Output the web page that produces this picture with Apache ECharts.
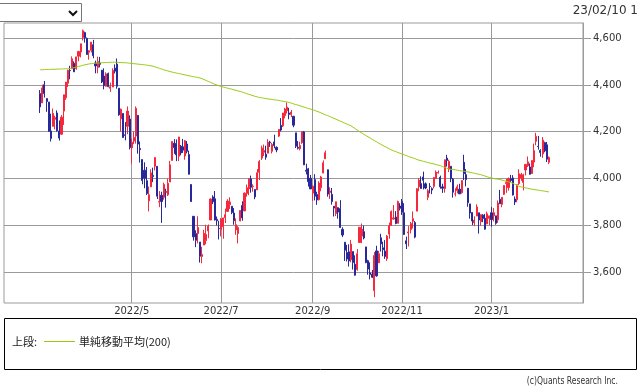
<!DOCTYPE html>
<html><head><meta charset="utf-8">
<script src="https://cdn.jsdelivr.net/npm/echarts@6/dist/echarts.min.js"></script>
<style>html,body{margin:0;padding:0;background:#fff;}#c{width:639px;height:392px;}</style>
</head><body><div id="c"></div>
<script>
// trading days (yy/mm/dd)
const dates = ("22/03/01 22/03/02 22/03/03 22/03/04 22/03/07 22/03/08 22/03/09 22/03/10 22/03/11 22/03/14 22/03/15 22/03/16 22/03/17 22/03/18 22/03/21 22/03/22 22/03/23 22/03/24 22/03/25 22/03/28 22/03/29 22/03/30 22/03/31 " +
"22/04/01 22/04/04 22/04/05 22/04/06 22/04/07 22/04/08 22/04/11 22/04/12 22/04/13 22/04/14 22/04/18 22/04/19 22/04/20 22/04/21 22/04/22 22/04/25 22/04/26 22/04/27 22/04/28 22/04/29 " +
"22/05/02 22/05/03 22/05/04 22/05/05 22/05/06 22/05/09 22/05/10 22/05/11 22/05/12 22/05/13 22/05/16 22/05/17 22/05/18 22/05/19 22/05/20 22/05/23 22/05/24 22/05/25 22/05/26 22/05/27 22/05/31 " +
"22/06/01 22/06/02 22/06/03 22/06/06 22/06/07 22/06/08 22/06/09 22/06/10 22/06/13 22/06/14 22/06/15 22/06/16 22/06/17 22/06/21 22/06/22 22/06/23 22/06/24 22/06/27 22/06/28 22/06/29 22/06/30 " +
"22/07/01 22/07/05 22/07/06 22/07/07 22/07/08 22/07/11 22/07/12 22/07/13 22/07/14 22/07/15 22/07/18 22/07/19 22/07/20 22/07/21 22/07/22 22/07/25 22/07/26 22/07/27 22/07/28 22/07/29 " +
"22/08/01 22/08/02 22/08/03 22/08/04 22/08/05 22/08/08 22/08/09 22/08/10 22/08/11 22/08/12 22/08/15 22/08/16 22/08/17 22/08/18 22/08/19 22/08/22 22/08/23 22/08/24 22/08/25 22/08/26 22/08/29 22/08/30 22/08/31 " +
"22/09/01 22/09/02 22/09/06 22/09/07 22/09/08 22/09/09 22/09/12 22/09/13 22/09/14 22/09/15 22/09/16 22/09/19 22/09/20 22/09/21 22/09/22 22/09/23 22/09/26 22/09/27 22/09/28 22/09/29 22/09/30 " +
"22/10/03 22/10/04 22/10/05 22/10/06 22/10/07 22/10/10 22/10/11 22/10/12 22/10/13 22/10/14 22/10/17 22/10/18 22/10/19 22/10/20 22/10/21 22/10/24 22/10/25 22/10/26 22/10/27 22/10/28 22/10/31 " +
"22/11/01 22/11/02 22/11/03 22/11/04 22/11/07 22/11/08 22/11/09 22/11/10 22/11/11 22/11/14 22/11/15 22/11/16 22/11/17 22/11/18 22/11/21 22/11/22 22/11/23 22/11/25 22/11/28 22/11/29 22/11/30 " +
"22/12/01 22/12/02 22/12/05 22/12/06 22/12/07 22/12/08 22/12/09 22/12/12 22/12/13 22/12/14 22/12/15 22/12/16 22/12/19 22/12/20 22/12/21 22/12/22 22/12/23 22/12/27 22/12/28 22/12/29 22/12/30 " +
"23/01/03 23/01/04 23/01/05 23/01/06 23/01/09 23/01/10 23/01/11 23/01/12 23/01/13 23/01/17 23/01/18 23/01/19 23/01/20 23/01/23 23/01/24 23/01/25 23/01/26 23/01/27 23/01/30 23/01/31 " +
"23/02/01 23/02/02 23/02/03 23/02/06 23/02/07 23/02/08 23/02/09 23/02/10").split(' ');

const opens = [
4363,4323,4401,4342,4327,4203,4223,4253,4280,4203,4189,4288,4345,4407,4462,4469,4493,4470,4523,4541,4603,4624,4599,
4540,4548,4572,4494,4475,4494,4463,4438,4394,4449,4386,4391,4472,4489,4386,4255,4278,4187,4223,4254,
4131,4160,4181,4270,4128,4081,4035,3990,3904,3964,4013,4052,4052,3899,3928,3919,3943,3930,3985,4077,4151,
4150,4095,4138,4135,4096,4147,4102,3974,3838,3764,3764,3728,3666,3715,3734,3775,3822,3921,3913,3825,3786,
3781,3793,3832,3859,3888,3881,3852,3780,3764,3818,3884,3861,3935,3955,3998,3966,3953,3951,4026,4087,
4112,4104,4108,4155,4116,4156,4133,4181,4227,4225,4269,4290,4280,4273,4266,4195,4133,4127,4153,4199,4035,4041,4001,
3937,3995,3931,3909,3960,4023,4084,4037,3940,3932,3881,3850,3875,3871,3782,3727,3683,3686,3652,3687,3633,
3610,3726,3753,3772,3707,3648,3596,3591,3520,3690,3639,3746,3703,3689,3657,3762,3799,3826,3835,3808,3882,
3902,3853,3733,3767,3781,3817,3811,3860,3964,3978,4006,3977,3919,3966,3956,3966,4000,4023,4005,3964,3957,
4087,4040,4052,3997,3933,3948,3954,3939,4069,4016,3958,3891,3854,3810,3839,3853,3815,3843,3830,3805,3829,
3853,3840,3840,3823,3911,3889,3932,3978,3961,3999,4002,3912,3909,3978,4002,3983,4036,4054,4049,4021,
4070,4159,4137,4120,4105,4153,4144,4069];

const highs = [
4378,4401,4417,4342,4327,4277,4299,4268,4291,4248,4271,4358,4413,4465,4482,4522,4501,4521,4546,4576,4637,4628,4603,
4549,4584,4593,4504,4521,4520,4464,4471,4454,4453,4410,4471,4488,4513,4386,4299,4278,4241,4308,4270,
4170,4200,4308,4270,4158,4081,4069,4049,3965,4039,4046,4091,4052,3946,3943,3982,3956,3999,4075,4158,4168,
4167,4178,4143,4169,4165,4160,4119,3974,3838,3778,3838,3728,3708,3780,3802,3803,3914,3928,3946,3837,3819,
3830,3832,3871,3911,3919,3881,3873,3829,3796,3864,3902,3940,3974,3999,4012,3975,3953,4040,4079,4140,
4145,4140,4168,4161,4152,4187,4137,4211,4258,4280,4302,4325,4302,4293,4266,4195,4160,4157,4201,4203,4063,4045,4015,
3970,4018,3943,3988,4011,4077,4119,4038,3962,3959,3881,3900,3876,3907,3791,3727,3716,3718,3737,3687,3671,
3698,3791,3807,3798,3707,3652,3641,3608,3685,3712,3690,3763,3729,3736,3758,3811,3863,3886,3860,3905,3894,
3912,3894,3751,3796,3814,3859,3818,3958,4001,4009,4029,3983,3954,3980,3962,4006,4034,4034,4012,3977,4080,
4101,4080,4052,4002,3958,3974,3977,3991,4101,4040,3958,3891,3855,3838,3889,3853,3846,3847,3848,3858,3840,
3878,3873,3840,3906,3951,3920,3970,3998,4004,4015,4014,3923,3973,4039,4024,4020,4062,4094,4064,4077,
4149,4195,4182,4125,4177,4157,4156,4094];

const lows = [
4280,4323,4346,4285,4200,4158,4223,4210,4200,4162,4188,4229,4336,4391,4424,4469,4456,4465,4501,4518,4590,4581,4530,
4508,4539,4514,4450,4450,4475,4408,4381,4393,4390,4370,4391,4449,4384,4268,4201,4175,4163,4189,4124,
4063,4147,4149,4106,4068,3975,3958,3929,3859,3964,3984,4034,3912,3877,3810,3909,3875,3925,3985,4077,4105,
4074,4074,4099,4109,4080,4107,4017,3900,3734,3706,3722,3640,3637,3715,3718,3744,3822,3890,3820,3799,3739,
3752,3742,3809,3859,3869,3847,3802,3759,3722,3817,3819,3861,3922,3928,3939,3943,3911,3951,3993,4079,
4096,4080,4108,4135,4107,4129,4112,4177,4201,4220,4257,4278,4253,4262,4219,4130,4124,4120,4148,4058,4017,3965,3955,
3904,3906,3887,3906,3945,4023,4084,3922,3912,3888,3837,3839,3828,3789,3749,3647,3645,3623,3641,3610,3584,
3605,3726,3723,3739,3637,3588,3568,3574,3492,3580,3639,3687,3667,3656,3647,3742,3799,3824,3804,3808,3863,
3844,3759,3698,3709,3765,3786,3744,3860,3945,3956,3953,3954,3907,3936,3933,3957,3999,4021,3956,3938,3939,
4051,4027,3984,3918,3923,3936,3933,3935,3993,3966,3879,3828,3800,3796,3839,3764,3797,3813,3781,3805,3800,
3794,3816,3802,3810,3890,3877,3929,3938,3948,3985,3927,3886,3898,3972,3990,3949,4013,4049,4016,4020,
4048,4142,4123,4093,4088,4112,4070,4061];

const closes = [
4306,4387,4363,4329,4201,4171,4278,4260,4204,4173,4262,4358,4412,4463,4461,4512,4456,4520,4543,4576,4632,4602,4530,
4546,4583,4525,4481,4500,4488,4413,4397,4447,4393,4392,4462,4459,4394,4272,4296,4175,4184,4288,4132,
4155,4175,4300,4147,4123,3991,4001,3935,3930,4024,4008,4089,3924,3901,3901,3974,3941,3979,4058,4158,4132,
4101,4177,4109,4121,4161,4116,4018,3901,3750,3735,3790,3667,3675,3765,3760,3796,3912,3900,3822,3819,3785,
3825,3831,3845,3903,3899,3854,3819,3802,3790,3863,3831,3937,3960,3999,3962,3967,3921,4024,4072,4130,
4119,4091,4155,4152,4145,4140,4122,4210,4207,4280,4297,4305,4274,4284,4228,4138,4129,4141,4199,4058,4031,3986,3955,
3967,3924,3908,3980,4006,4067,4110,3933,3946,3901,3873,3900,3856,3790,3758,3693,3655,3647,3719,3640,3586,
3678,3791,3783,3745,3640,3612,3589,3577,3670,3583,3678,3720,3695,3666,3753,3797,3859,3831,3807,3901,3872,
3856,3760,3720,3771,3807,3828,3749,3956,3993,3957,3992,3959,3947,3965,3950,4004,4027,4026,3964,3958,4080,
4077,4072,3999,3941,3934,3964,3934,3991,4020,3995,3896,3852,3818,3822,3878,3822,3845,3829,3783,3849,3840,
3824,3853,3808,3895,3892,3919,3970,3983,3999,3991,3929,3899,3973,4020,4017,4016,4060,4071,4018,4077,
4119,4180,4136,4111,4164,4118,4082,4090];

// 200-day simple moving average
const sma200 = [
4465,4465,4466,4466,4466,4467,4467,4467,4468,4468,4468,4469,4469,4469,4470,
4472,4474,4477,4479,4481,4484,4486,4488,4490,
4491,4492,4493,4493,4494,4495,4495,4496,4496,4497,
4497,4497,4497,4496,4496,4495,4495,4494,4493,
4492,4491,4490,4489,4488,4487,4486,4485,4483,4482,
4480,4477,4474,4471,4468,4465,4462,4460,4457,
4455,4453,4451,4449,4447,4445,4443,4441,4439,
4437,4435,4434,4432,4430,
4427,4423,4419,4415,4411,4407,4403,4400,4396,
4394,4391,4389,4386,4384,4382,4379,4377,4374,4372,
4369,4366,4363,4360,4357,4354,4351,4349,4346,
4345,4343,4342,4340,4339,4338,4336,4335,4334,4332,
4330,4328,4327,4325,
4322,4319,4316,4314,4311,
4308,4305,4302,4299,4297,4294,
4291,4287,4284,4280,4276,4272,4269,4265,
4261,4257,4253,4249,4245,4241,4237,4233,4229,4225,
4219,4213,4206,4200,
4195,4189,4184,4178,4173,4167,4162,4157,4151,4146,
4141,4136,4132,4127,4122,
4118,4115,4111,4108,4104,
4101,4098,4094,4091,4088,4085,4081,4078,
4076,4073,4071,4068,4066,
4064,4062,4059,4057,4055,
4051,4047,4044,4040,
4039,4038,4037,4035,4034,
4032,4031,4029,4028,4026,
4024,4022,4020,4018,4016,
4013,4010,4007,4004,
4002,4000,3998,3997,3995,
3993,3990,3988,3985,3983,
3979,3975,3970,3966,
3964,3962,3960,3958,3956,
3954,3953,3951,3950,3948,3947,3945,3944,3942];

const xTickDates = ['22/05/02','22/07/01','22/09/01','22/11/01','23/01/03'];
const xTickLabels = ['2022/5','2022/7','2022/9','2022/11','2023/1'];
const yTicks = [3600,3800,4000,4200,4400,4600];

const n = dates.length;
[opens,highs,lows,closes,sma200].forEach(function(a){ if(a.length!==n) throw new Error('length mismatch '+a.length+' vs '+n); });

const PAD_BEFORE = 17, PAD_AFTER = 16;
const cats = [], candle = [], smaData = [];
for (let i = 0; i < PAD_BEFORE; i++) { cats.push('pre' + i); candle.push('-'); smaData.push('-'); }
for (let i = 0; i < n; i++) { cats.push(dates[i]); candle.push([opens[i], closes[i], lows[i], highs[i]]); smaData.push(sma200[i]); }
for (let i = 0; i < PAD_AFTER; i++) { cats.push('post' + i); candle.push('-'); smaData.push('-'); }

const tickSet = {};
xTickDates.forEach(function(d, k){ tickSet[d] = xTickLabels[k]; });
function isTick(idx, val) { return Object.prototype.hasOwnProperty.call(tickSet, cats[idx]); }

const UP = '#f5283c', DOWN = '#28289a', SMA = '#99cc11', GRID = '#9a9a9a';

const chart = echarts.init(document.getElementById('c'), null, {renderer: 'canvas'});
chart.setOption({
  animation: false,
  backgroundColor: '#fff',
  grid: {left: 4, top: 23, width: 579, height: 280, show: true, borderColor: GRID, borderWidth: 1, backgroundColor: 'transparent'},
  xAxis: {
    type: 'category', data: cats, boundaryGap: false,
    axisLine: {show: false}, axisTick: {show: false},
    axisLabel: {interval: isTick, formatter: function(v){ return tickSet[v] || ''; }, color: '#333', fontSize: 10, fontFamily: 'DejaVu Sans', margin: 3},
    splitLine: {show: true, interval: isTick, lineStyle: {color: GRID, width: 1}}
  },
  yAxis: {
    type: 'value', position: 'right', min: 3467, max: 4665, scale: true,
    axisLine: {show: true, lineStyle: {color: GRID}},
    axisTick: {show: true, inside: false, length: 8, lineStyle: {color: GRID}, customValues: yTicks},
    axisLabel: {customValues: yTicks, formatter: function(v){ return v.toLocaleString('en-US'); }, color: '#333', fontSize: 10, fontFamily: 'DejaVu Sans', margin: 10},
    splitLine: {show: true, lineStyle: {color: GRID, width: 1}}
  },
  series: [
    {type: 'candlestick', data: candle, barWidth: 1.6,
     itemStyle: {color: UP, color0: DOWN, borderColor: UP, borderColor0: DOWN, borderWidth: 1}},
    {type: 'line', data: smaData, showSymbol: false, symbol: 'none', smooth: false,
     lineStyle: {color: SMA, width: 1}, z: 3}
  ],
  graphic: [
    {type: 'rect', shape: {x: -0.5, y: 3.5, width: 82, height: 18}, style: {fill: '#fff', stroke: '#767676', lineWidth: 1}},
    {type: 'polyline', shape: {points: [[69, 11], [73, 15], [77, 11]]}, style: {stroke: '#111', lineWidth: 2, fill: null}},
    {type: 'text', style: {text: '23/02/10 1', x: 638, y: 11, textAlign: 'right', align: 'right', textVerticalAlign: 'middle', verticalAlign: 'middle', font: '12px "DejaVu Sans"', fill: '#333'}},
    {type: 'rect', shape: {x: 4.5, y: 318.5, width: 632, height: 51}, style: {fill: 'none', stroke: '#000', lineWidth: 1}},
    {type: 'text', style: {text: '上段:', x: 12, y: 341.5, textVerticalAlign: 'middle', verticalAlign: 'middle', font: '11px "Noto Sans CJK JP"', fill: '#222'}},
    {type: 'line', shape: {x1: 44, y1: 341.5, x2: 75, y2: 341.5}, style: {stroke: SMA, lineWidth: 1}},
    {type: 'text', style: {text: '単純移動平均(200)', x: 79, y: 341.5, textVerticalAlign: 'middle', verticalAlign: 'middle', font: '11px "Noto Sans CJK JP"', fill: '#222'}},
    {type: 'text', x: 618, y: 381, scaleX: 0.85, style: {text: '(c)Quants Research Inc.', x: 0, y: 0, textAlign: 'right', align: 'right', textVerticalAlign: 'middle', verticalAlign: 'middle', font: '10px "DejaVu Sans Condensed", "DejaVu Sans", sans-serif', fill: '#333'}}
  ]
});
</script></body></html>
